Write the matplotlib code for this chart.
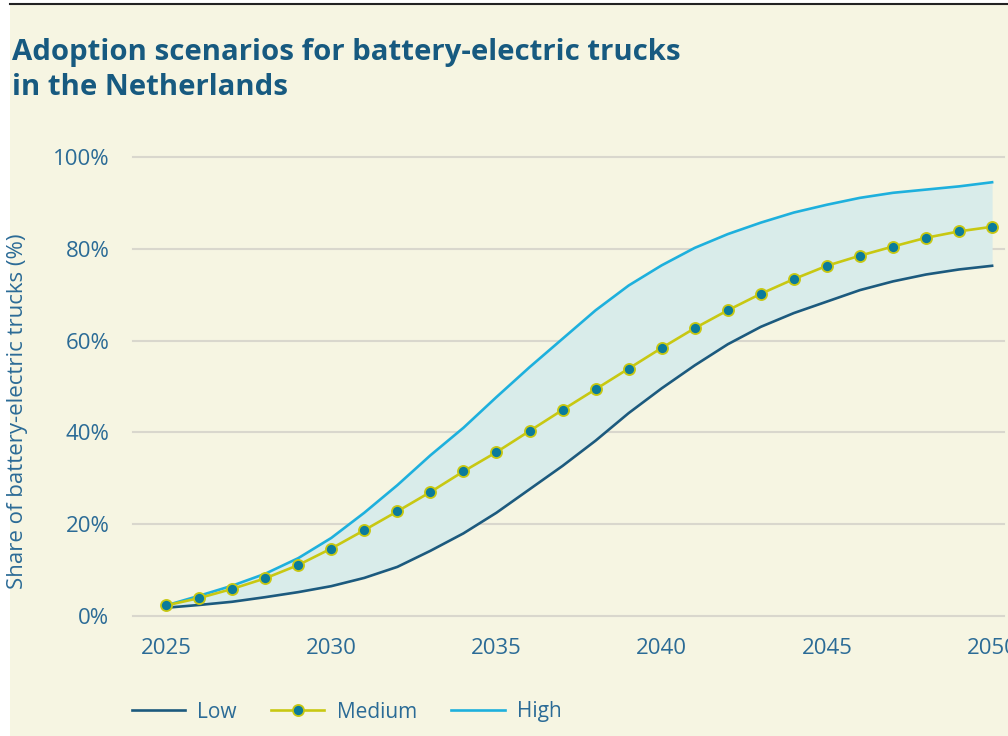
import numpy as np
import matplotlib.pyplot as plt
from matplotlib.patches import Rectangle
from matplotlib.lines import Line2D

years = np.arange(2025, 2051)
low = [1.8, 2.4, 3.1, 4.1, 5.2, 6.5, 8.3, 10.7, 14.2, 18.0, 22.5, 27.6, 32.7,
       38.2, 44.2, 49.6, 54.6, 59.2, 63.0, 66.0, 68.5, 71.0, 72.9, 74.4, 75.5, 76.3]
medium = [2.3, 3.9, 5.9, 8.2, 11.1, 14.7, 18.7, 22.8, 27.0, 31.5, 35.7, 40.3, 44.9,
          49.4, 53.9, 58.4, 62.7, 66.6, 70.2, 73.4, 76.3, 78.5, 80.5, 82.4, 83.8, 84.8]
high = [2.3, 4.4, 6.6, 9.2, 12.6, 17.0, 22.5, 28.5, 35.0, 41.0, 47.7, 54.2, 60.4,
        66.6, 72.0, 76.4, 80.2, 83.2, 85.7, 87.9, 89.6, 91.1, 92.2, 92.9, 93.6, 94.5]
x_ticks = [2025, 2030, 2035, 2040, 2045, 2050]
y_ticks = [0, 20, 40, 60, 80, 100]

bg = "#f6f5e2"
title_col = "#175a80"
text_col = "#2b6b96"
low_col = "#1c5a7e"
med_col = "#c8c812"
dot_col = "#0b7b9b"
high_col = "#1eb0dd"
fill_col = "#d9ecea"
grid_col = "#d9d7cd"

plt.rcParams['font.family'] = ['Open Sans', 'DejaVu Sans']

fig = plt.figure(figsize=(10.08, 7.36), dpi=100, facecolor="white")
# cream panel with black rule on top, as in the screenshot
fig.patches.append(Rectangle((10 / 1008, 0), 1, 1 - 5 / 736, transform=fig.transFigure,
                             facecolor=bg, edgecolor="none", zorder=-10))
fig.lines.append(Line2D([10 / 1008, 1], [1 - 4 / 736, 1 - 4 / 736], transform=fig.transFigure,
                        color="#222222", linewidth=1.5, zorder=-5))

ax = fig.add_axes([133 / 1008, 1 - 616 / 736, (1004 - 133) / 1008, (616 - 157) / 736])
ax.set_facecolor("none")
ax.set_xlim(2024.0, 2050.36)
ax.set_ylim(0, 100)

for y in y_ticks:
    ax.axhline(y, color=grid_col, linewidth=1.5, zorder=1, clip_on=False)

ax.fill_between(years, low, high, color=fill_col, linewidth=0, zorder=2)
ax.plot(years, low, color=low_col, linewidth=1.9, zorder=3, label="Low", clip_on=False)
ax.plot(years, medium, color=med_col, linewidth=1.9, marker="o", markersize=8,
        markerfacecolor=dot_col, markeredgecolor=med_col, markeredgewidth=1.3,
        zorder=4, label="Medium", clip_on=False)
ax.plot(years, high, color=high_col, linewidth=1.9, zorder=3, label="High", clip_on=False)

ax.set_xticks(x_ticks)
ax.set_yticks(y_ticks)
ax.set_yticklabels([f"{v}%" for v in y_ticks])
ax.tick_params(axis="both", length=0, labelsize=16, labelcolor=text_col)
ax.tick_params(axis="y", pad=17)
ax.tick_params(axis="x", pad=16)
for s in ax.spines.values():
    s.set_visible(False)

fig.text(18 / 1008, 1 - 411 / 736, "Share of battery-electric trucks (%)", rotation=90,
         ha="center", va="center", fontsize=16, color=text_col)

fig.text(12 / 1008, 1 - 70 / 736, "Adoption scenarios for battery-electric trucks\nin the Netherlands",
         ha="left", va="center", fontsize=21.2, fontweight="bold", color=title_col,
         linespacing=1.25)

leg = fig.legend(loc="center left", bbox_to_anchor=(113 / 1008, 1 - 712 / 736), ncol=3,
                 frameon=False, fontsize=15, handlelength=2.55, handletextpad=0.6,
                 columnspacing=1.65)
for t in leg.get_texts():
    t.set_color(text_col)

fig.savefig("out.png", dpi=100, facecolor=fig.get_facecolor())
